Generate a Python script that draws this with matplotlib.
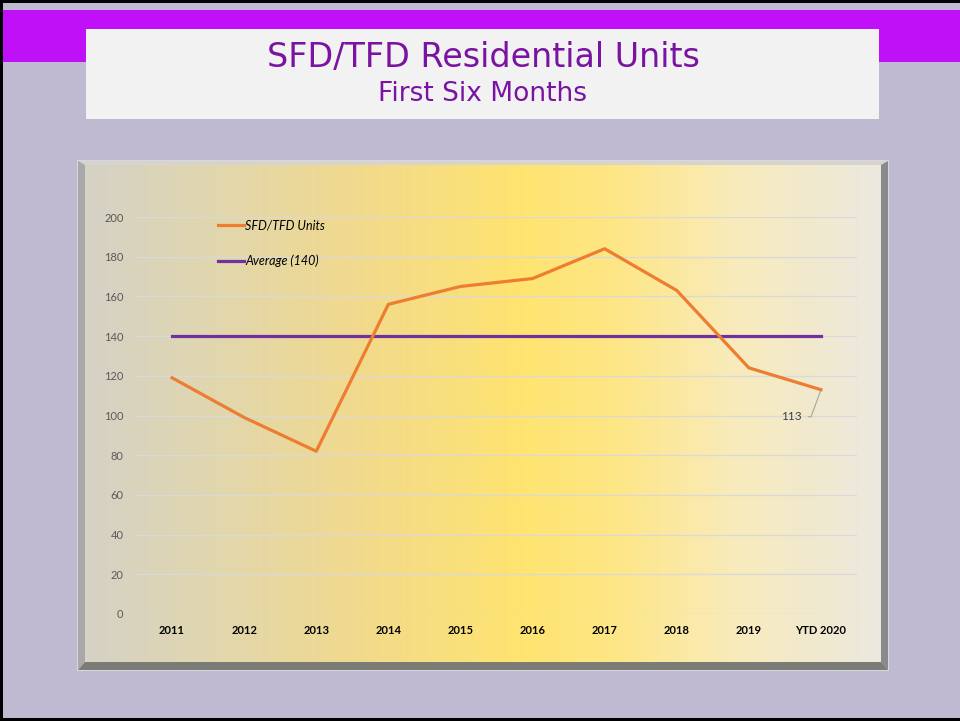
import matplotlib
matplotlib.use("Agg")
import matplotlib.pyplot as plt
import numpy as np
from matplotlib.colors import LinearSegmentedColormap
from matplotlib.patches import Polygon, Rectangle

categories = ["2011", "2012", "2013", "2014", "2015", "2016", "2017", "2018", "2019", "YTD 2020"]
units = [119, 99, 82, 156, 165, 169, 184, 163, 124, 113]
average = [140] * len(categories)
yticks = [0, 20, 40, 60, 80, 100, 120, 140, 160, 180, 200]
title = "SFD/TFD Residential Units"
subtitle = "First Six Months"
series_names = ["SFD/TFD Units", "Average (140)"]

W, H = 960, 721
fig = plt.figure(figsize=(W / 100, H / 100), dpi=100)
fig.patch.set_facecolor("#bfb9d1")

# overlay axes in pixel coordinates
bg = fig.add_axes([0, 0, 1, 1])
bg.set_xlim(0, W)
bg.set_ylim(H, 0)
bg.axis("off")
bg.set_zorder(0)

def rect(x0, y0, x1, y1, color, z=1):
    bg.add_patch(Rectangle((x0, y0), x1 - x0, y1 - y0, facecolor=color, edgecolor="none", zorder=z))

rect(0, 0, W, 3, "#000000")
rect(0, 0, 3, H, "#000000")
rect(0, 718, W, H, "#000000")
rect(3, 10, W, 62, "#c010f8")
rect(86, 29, 879, 119, "#f2f2f2", z=2)
bg.text(483, 58, title, ha="center", va="center", fontsize=24, color="#7a12a2",
        family="DejaVu Sans", zorder=3)
bg.text(483, 94, subtitle, ha="center", va="center", fontsize=19, color="#7a12a2",
        family="DejaVu Sans", zorder=3)

# panel bevel
ox0, oy0, ox1, oy1 = 78, 161, 888, 670
ix0, iy0, ix1, iy1 = 85, 165, 881, 662
rect(ox0 - 1, oy0 - 1, ox1 + 1, oy1 + 1, "#d8d6de")
bg.add_patch(Polygon([(ox0, oy0), (ox1, oy0), (ix1, iy0), (ix0, iy0)], closed=True, facecolor="#d6d4cc", edgecolor="none", zorder=2))
bg.add_patch(Polygon([(ox0, oy0), (ix0, iy0), (ix0, iy1), (ox0, oy1)], closed=True, facecolor="#a8a8a8", edgecolor="none", zorder=2))
bg.add_patch(Polygon([(ox1, oy0), (ox1, oy1), (ix1, iy1), (ix1, iy0)], closed=True, facecolor="#8a8a8a", edgecolor="none", zorder=2))
bg.add_patch(Polygon([(ox0, oy1), (ox1, oy1), (ix1, iy1), (ix0, iy1)], closed=True, facecolor="#7c7c76", edgecolor="none", zorder=2))

# gradient face
cmap = LinearSegmentedColormap.from_list("face", [
    (0.0, "#d5d2c6"), (0.15, "#e0d6b0"), (0.35, "#f2da8c"), (0.55, "#ffe470"),
    (0.66, "#fee684"), (0.82, "#f8ebbc"), (1.0, "#ebe8df")])
grad = np.linspace(0, 1, 256).reshape(1, -1)
bg.imshow(grad, extent=(ix0, ix1, iy1, iy0), aspect="auto", cmap=cmap, zorder=2.5)
bg.set_xlim(0, W)
bg.set_ylim(H, 0)

# chart axes
ax = fig.add_axes([136 / W, (H - 614) / H, (857 - 136) / W, (614 - 217) / H])
ax.set_zorder(5)
ax.patch.set_alpha(0)
x = np.arange(len(categories))
ax.plot(x, units, color="#ed7d31", lw=2.3, label=series_names[0], solid_joinstyle="round", zorder=4)
ax.plot(x, average, color="#7030a0", lw=2.3, label=series_names[1], zorder=3)
ax.set_xlim(-0.5, len(categories) - 0.5)
ax.set_ylim(0, 200)
ax.set_yticks(yticks)
ax.set_xticks(x)
ax.set_xticklabels(categories, fontsize=8, color="#000000", family="Lato", fontweight="bold")
ax.set_yticklabels([str(v) for v in yticks], fontsize=8, color="#595959", family="Lato")
ax.tick_params(axis="both", length=0)
ax.tick_params(axis="x", pad=8)
ax.tick_params(axis="y", pad=9)
ax.grid(axis="y", color="#d9d9d9", lw=0.9)
ax.set_axisbelow(True)
for s in ax.spines.values():
    s.set_visible(False)

leg = ax.legend(loc="upper left", bbox_to_anchor=(0.098, 1.023), frameon=False,
                prop={"family": "Lato", "style": "italic", "size": 9},
                handlelength=2.1, handletextpad=0.1, labelspacing=1.88)

ax.annotate(str(units[-1]), xy=(x[-1], units[-1]), xytext=(-14, -19.5), textcoords="offset points",
            ha="right", va="center", fontsize=8.5, color="#404040", family="Lato",
            arrowprops=dict(arrowstyle="-", color="#a6a6a6", lw=0.8,
                            connectionstyle="angle,angleA=0,angleB=70,rad=0",
                            shrinkA=3, shrinkB=0))

fig.savefig("out.png", dpi=100, facecolor=fig.get_facecolor())
